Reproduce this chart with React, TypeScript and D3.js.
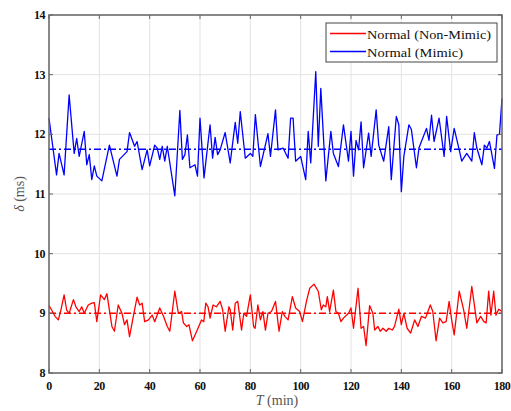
import React from "react";
import * as d3 from "d3";

const xTicks = [0, 20, 40, 60, 80, 100, 120, 140, 160, 180];
const yTicks = [8, 9, 10, 11, 12, 13, 14];

const mimicT = [0, 3, 4, 6, 8, 10, 11, 12, 14, 15, 16, 17, 18, 19, 21, 24, 27, 28, 31, 32, 34, 35, 37, 39, 40, 42, 43, 44, 45, 46, 47, 50, 52, 53, 54, 55, 56, 58, 59, 60, 61.6, 64, 65, 66, 67, 68, 70, 72, 74, 75, 76, 78, 80, 81, 82, 84, 87, 88, 90, 91, 93, 95, 96, 97, 98, 100, 102, 103, 104, 106, 107, 108, 110, 112, 113, 115, 117, 119, 120, 121, 122, 123, 124, 125, 127, 128, 130, 131, 133, 135, 136, 138, 139, 140, 141, 143, 144, 146, 147, 150, 151, 152, 153, 155, 157, 158, 159.6, 161, 163, 164, 166, 168, 169, 170, 172, 173, 174, 175, 177, 178, 179, 180];
const mimicV = [12.27, 11.32, 11.68, 11.32, 12.66, 11.68, 11.93, 11.63, 12.05, 11.49, 11.66, 11.24, 11.47, 11.3, 11.22, 11.82, 11.3, 11.58, 11.71, 12.03, 11.8, 11.88, 11.41, 11.74, 11.47, 11.82, 11.77, 11.58, 11.8, 11.55, 11.8, 10.97, 12.4, 11.58, 11.66, 11.99, 11.44, 11.49, 11.3, 12.27, 11.27, 12.16, 11.6, 11.95, 11.66, 11.74, 12.03, 11.52, 12.2, 11.85, 12.38, 11.6, 11.68, 11.63, 12.33, 11.46, 12.01, 11.63, 12.41, 11.74, 11.77, 11.6, 12.27, 12.27, 11.55, 11.63, 11.24, 12.05, 11.52, 13.05, 11.8, 12.77, 11.22, 12.05, 11.68, 11.46, 12.16, 11.55, 12.05, 11.3, 11.9, 11.74, 12.21, 11.44, 12.02, 11.63, 12.41, 11.82, 11.55, 12.13, 11.24, 12.3, 12.16, 11.04, 11.63, 12.16, 12.08, 11.44, 11.77, 12.1, 11.9, 12.32, 11.88, 12.27, 11.63, 12.3, 11.71, 12.1, 11.74, 11.55, 11.68, 11.55, 12.03, 11.77, 11.49, 11.82, 11.77, 11.88, 11.43, 11.99, 12.0, 12.6];

const nonMimicT = [0, 1, 2.4, 3.7, 4.6, 6, 7, 8, 9.7, 10.7, 12, 13, 14, 15.6, 17, 18, 19, 20.5, 22, 23, 25, 26, 27.5, 29, 30, 31, 32, 33.5, 35, 36, 37, 38, 39.5, 41, 42, 44, 45.5, 47, 48, 50, 51.4, 52.7, 53.4, 54.7, 55.6, 57, 58.7, 60.6, 61.5, 62.3, 63.2, 64, 65.2, 66.5, 68, 69, 70, 71.5, 72, 73, 74, 75, 76.5, 77.4, 78.5, 80, 81.3, 81.9, 83, 84, 85, 86, 87, 88.4, 90, 91.4, 92.7, 93.7, 95, 96.7, 98, 99.6, 100.7, 102.3, 103.6, 105.3, 107, 108.2, 109, 110, 110.6, 111.5, 113, 114, 115, 116, 117, 119, 120, 121, 122.8, 124, 125, 126, 127.4, 128.7, 129.4, 130.7, 131.6, 132.7, 134, 135, 136.4, 137.3, 139, 140, 141, 142.3, 143.7, 145.3, 146.6, 148, 149.6, 151.5, 152.5, 153.8, 155.2, 156.5, 157.8, 159, 160, 161, 163, 164.7, 166, 168, 170, 171.5, 172.8, 173.7, 174.7, 175.6, 176.7, 177.6, 178.7, 180];
const nonMimicV = [9.13, 9.06, 8.95, 8.89, 9.03, 9.31, 9.06, 9.0, 9.23, 9.11, 9.03, 9.11, 9.0, 9.14, 9.17, 9.18, 8.86, 9.31, 9.23, 9.33, 8.78, 8.7, 9.14, 9.0, 8.81, 8.89, 8.61, 8.95, 9.27, 9.14, 9.17, 8.86, 8.89, 8.97, 8.86, 9.09, 8.95, 8.78, 8.7, 9.37, 9.0, 9.03, 8.84, 8.78, 8.81, 8.54, 8.7, 8.89, 8.86, 9.17, 9.11, 8.92, 9.14, 9.11, 9.2, 9.06, 8.7, 9.11, 9.06, 8.72, 9.17, 9.2, 8.72, 9.0, 8.95, 9.31, 8.78, 8.75, 9.14, 8.89, 9.03, 8.72, 9.0, 9.03, 9.2, 8.7, 9.03, 8.95, 8.89, 9.28, 9.09, 9.03, 8.86, 9.2, 9.42, 9.49, 9.37, 9.06, 9.14, 9.11, 9.28, 9.03, 9.39, 9.03, 9.0, 8.86, 8.92, 9.0, 9.09, 8.75, 9.42, 8.75, 8.78, 8.46, 9.13, 9.0, 8.72, 8.78, 8.7, 8.75, 8.7, 8.75, 8.72, 8.78, 9.07, 8.81, 9.0, 8.75, 8.67, 8.89, 8.78, 8.95, 8.92, 9.14, 9.03, 8.54, 8.92, 8.84, 8.86, 9.2, 8.89, 8.64, 9.37, 9.07, 8.75, 9.45, 8.84, 8.95, 8.86, 8.84, 9.37, 8.97, 9.37, 8.97, 9.07, 9.03];

const mimicMean = 11.75;
const nonMimicMean = 9.0;

const seriesNames = ["Normal (Non-Mimic)", "Normal (Mimic)"];

export default function App() {
  const W = 511, H = 411;
  const L = 49, R = 502, T = 15, B = 373;
  const x = d3.scaleLinear().domain([0, 180]).range([L, R]);
  const y = d3.scaleLinear().domain([8, 14]).range([B, T]);
  const line = d3.line<[number, number]>().x((d) => x(d[0])).y((d) => y(d[1]));
  const blue = mimicT.map((t, i) => [t, mimicV[i]] as [number, number]);
  const red = nonMimicT.map((t, i) => [t, nonMimicV[i]] as [number, number]);
  const serif = "Liberation Serif, DejaVu Serif, Times New Roman, serif";
  const axisCol = "#666";
  return (
    <svg width={W} height={H} style={{ position: "absolute", left: 0, top: 0, background: "#fff" }}>
      <rect x={0} y={0} width={W} height={H} fill="#fff" />
      {xTicks.map((t) => (
        <line key={"gx" + t} x1={x(t)} x2={x(t)} y1={T} y2={B} stroke="#e3e3e3" strokeWidth={1} />
      ))}
      {yTicks.map((t) => (
        <line key={"gy" + t} x1={L} x2={R} y1={y(t)} y2={y(t)} stroke="#e3e3e3" strokeWidth={1} />
      ))}
      <line x1={L} x2={R} y1={y(nonMimicMean)} y2={y(nonMimicMean)} stroke="#ff0000" strokeWidth={1.5} strokeDasharray="7 3 2 3" />
      <line x1={L} x2={R} y1={y(mimicMean)} y2={y(mimicMean)} stroke="#0000ff" strokeWidth={1.5} strokeDasharray="7 3 2 3" />
      <path d={line(red) || ""} fill="none" stroke="#ff0000" strokeWidth={1.3} strokeLinejoin="round" />
      <path d={line(blue) || ""} fill="none" stroke="#0000ff" strokeWidth={1.3} strokeLinejoin="round" />
      <rect x={L} y={T} width={R - L} height={B - T} fill="none" stroke={axisCol} strokeWidth={1.5} />
      {xTicks.map((t) => (
        <g key={"tx" + t}>
          <line x1={x(t)} x2={x(t)} y1={B} y2={B - 4} stroke={axisCol} strokeWidth={1} />
          <line x1={x(t)} x2={x(t)} y1={T} y2={T + 4} stroke={axisCol} strokeWidth={1} />
          <text x={x(t)} y={390} textAnchor="middle" style={{ fontFamily: serif }} fontWeight="bold" fontSize={12} fill="#111" letterSpacing={-0.5}>{t}</text>
        </g>
      ))}
      {yTicks.map((t) => (
        <g key={"ty" + t}>
          <line x1={L} x2={L + 4} y1={y(t)} y2={y(t)} stroke={axisCol} strokeWidth={1} />
          <line x1={R} x2={R - 4} y1={y(t)} y2={y(t)} stroke={axisCol} strokeWidth={1} />
          <text x={45} y={y(t) + 4} textAnchor="end" style={{ fontFamily: serif }} fontWeight="bold" fontSize={12} fill="#111" letterSpacing={-0.5}>{t}</text>
        </g>
      ))}
      <text x={277} y={405} textAnchor="middle" style={{ fontFamily: serif }} fontSize={14} fill="#555">
        <tspan fontStyle="italic">T</tspan> (min)
      </text>
      <text transform={`translate(24,${194}) rotate(-90)`} textAnchor="middle" style={{ fontFamily: serif }} fontSize={14} fill="#555">
        <tspan fontStyle="italic">δ</tspan> (ms)
      </text>
      <rect x={326} y={23} width={171} height={39} fill="#fff" stroke="#444" strokeWidth={1} />
      <line x1={330} x2={366} y1={33.5} y2={33.5} stroke="#ff0000" strokeWidth={1.3} />
      <line x1={330} x2={366} y1={51.5} y2={51.5} stroke="#0000ff" strokeWidth={1.3} />
      <text x={367} y={38.5} style={{ fontFamily: serif }} fontSize={13.5} fill="#111" textLength={124} lengthAdjust="spacingAndGlyphs">{seriesNames[0]}</text>
      <text x={367} y={56.5} style={{ fontFamily: serif }} fontSize={13.5} fill="#111" textLength={96} lengthAdjust="spacingAndGlyphs">{seriesNames[1]}</text>
    </svg>
  );
}
